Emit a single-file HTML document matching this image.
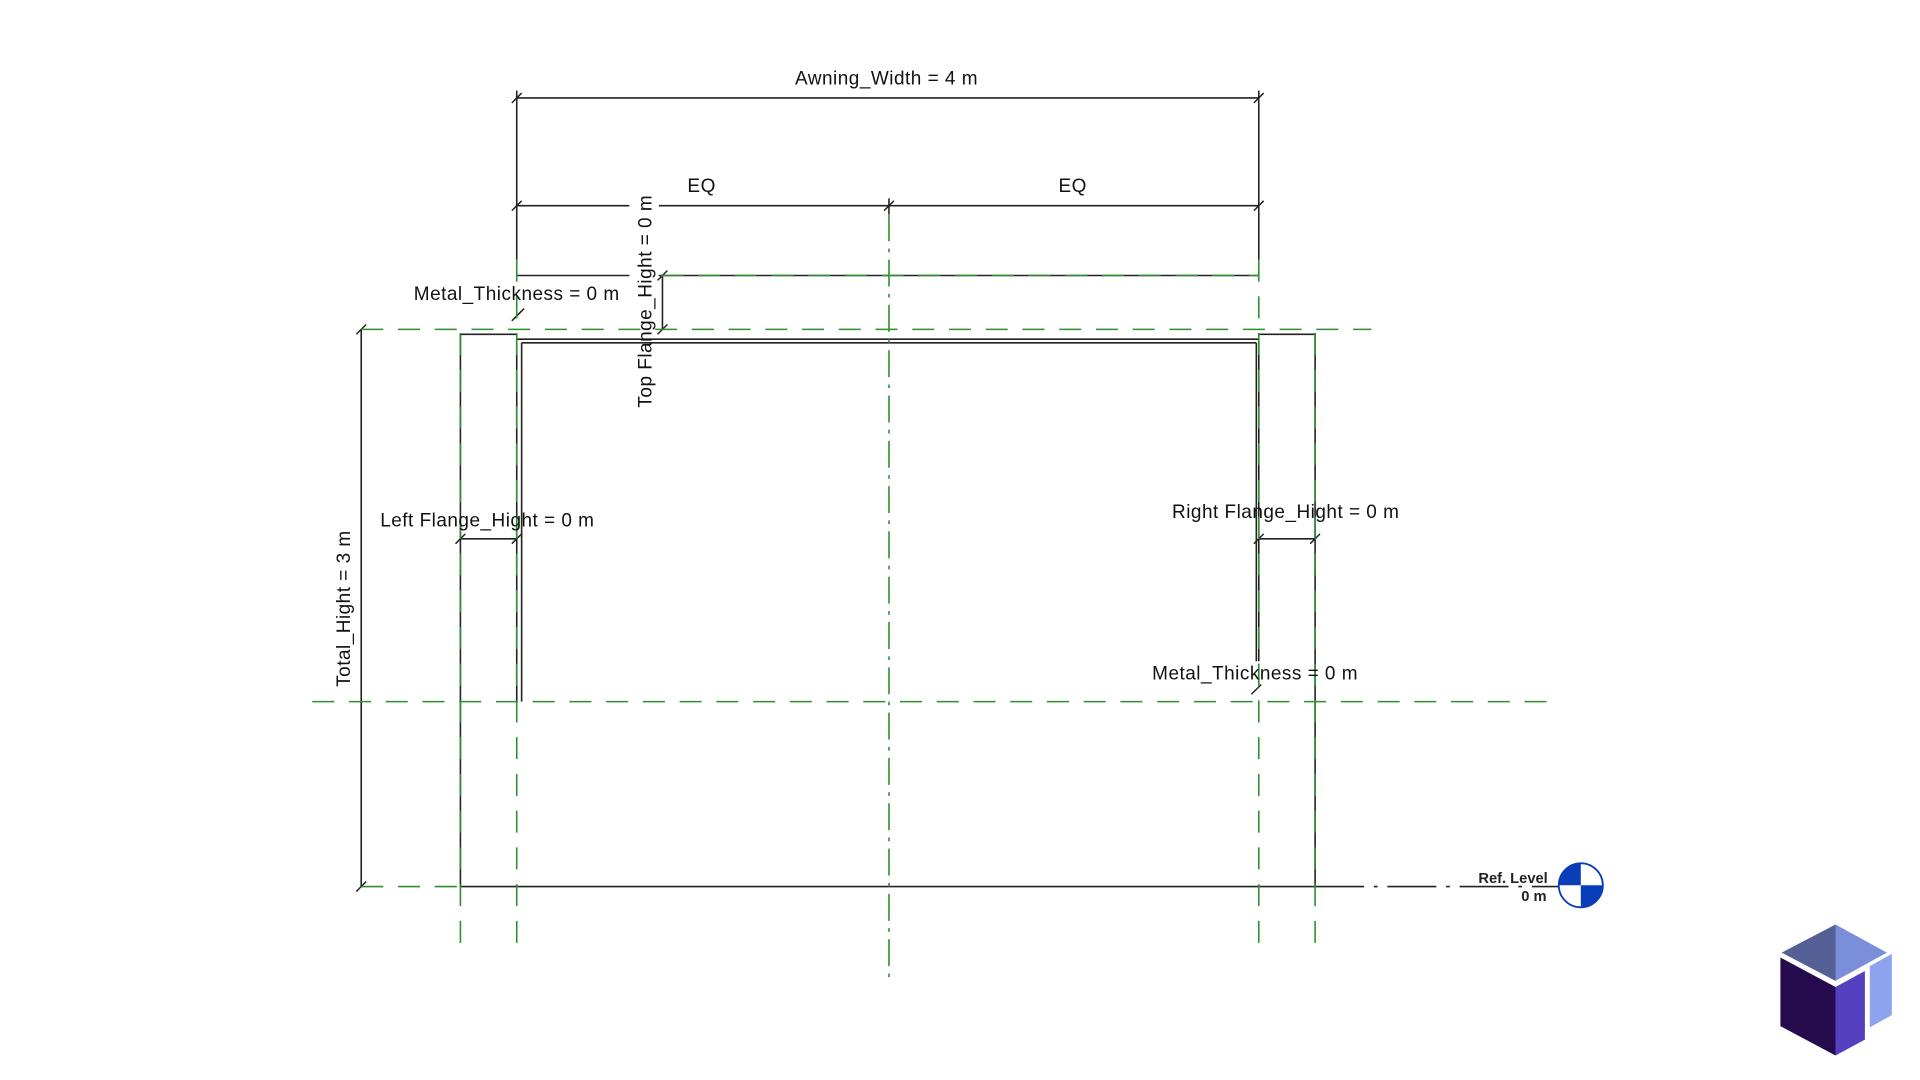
<!DOCTYPE html>
<html><head><meta charset="utf-8"><style>html,body{margin:0;padding:0;background:#fff}svg{display:block}</style></head>
<body>
<svg width="1920" height="1080" viewBox="0 0 1568 882" xmlns="http://www.w3.org/2000/svg" font-family="Liberation Sans, sans-serif" font-size="15.5" fill="#111">
<rect width="1568" height="882" fill="#fff"/>
<!-- black geometry -->
<g stroke="#222" stroke-width="1.3" fill="none">
  <line x1="422" y1="74" x2="422" y2="212"/>
  <line x1="1028" y1="74" x2="1028" y2="212"/>
  <line x1="422" y1="80" x2="1028" y2="80"/>
  <line x1="422" y1="168" x2="514" y2="168"/>
  <line x1="538" y1="168" x2="1028" y2="168"/>
  <line x1="726" y1="162" x2="726" y2="175"/>
  <line x1="422" y1="225" x2="514" y2="225"/>
  <line x1="538" y1="225" x2="1028" y2="225"/>
  <line x1="541" y1="225" x2="541" y2="269"/>
  <polyline points="376,724 376,273 422,273"/>
  <polyline points="1028,273 1074,273 1074,724"/>
  <line x1="376" y1="724" x2="1074" y2="724"/>
  <line x1="422" y1="277" x2="1028" y2="277"/>
  <line x1="426" y1="280" x2="1026" y2="280"/>
  <line x1="422" y1="277" x2="422" y2="573"/>
  <line x1="426" y1="280" x2="426" y2="573"/>
  <line x1="1028" y1="277" x2="1028" y2="540"/>
  <line x1="1026" y1="280" x2="1026" y2="540"/>
  <line x1="295" y1="269" x2="295" y2="724"/>
  <line x1="376" y1="440" x2="422" y2="440"/>
  <line x1="1028" y1="440" x2="1074" y2="440"/>
  <g stroke-width="1.2">
    <line x1="418" y1="84" x2="426" y2="76"/><line x1="1024" y1="84" x2="1032" y2="76"/>
    <line x1="418" y1="172" x2="426" y2="164"/><line x1="722" y1="172" x2="730" y2="164"/><line x1="1024" y1="172" x2="1032" y2="164"/>
    <line x1="537" y1="229" x2="545" y2="221"/><line x1="537" y1="273" x2="545" y2="265"/>
    <line x1="291" y1="273" x2="299" y2="265"/><line x1="291" y1="728" x2="299" y2="720"/>
    <line x1="372" y1="444" x2="380" y2="436"/><line x1="418" y1="444" x2="426" y2="436"/>
    <line x1="1024" y1="444" x2="1032" y2="436"/><line x1="1070" y1="444" x2="1078" y2="436"/>
    <line x1="418" y1="262" x2="426" y2="254"/><line x1="420" y1="260" x2="428" y2="252"/>
    <line x1="1022" y1="567" x2="1030" y2="559"/>
  </g>
  <line x1="1074" y1="724" x2="1275" y2="724" stroke-dasharray="40,8,3,8"/>
</g>
<!-- green reference lines -->
<g stroke="#2f8f2f" stroke-width="1.3" fill="none">
  <g stroke-dasharray="18,12">
    <line x1="422" y1="212" x2="422" y2="770"/>
    <line x1="1028" y1="212" x2="1028" y2="770"/>
    <line x1="376" y1="272" x2="376" y2="770"/>
    <line x1="1074" y1="272" x2="1074" y2="770"/>
    <line x1="295" y1="269" x2="1120" y2="269"/>
    <line x1="255" y1="573" x2="1272" y2="573"/>
    <line x1="295" y1="724" x2="376" y2="724"/>
    <line x1="540" y1="225" x2="1028" y2="225"/>
  </g>
  <line x1="726" y1="175" x2="726" y2="802" stroke-dasharray="22,6,3,6"/>
</g>
<!-- text -->
<g text-anchor="middle" letter-spacing="0.4">
  <text x="724" y="69">Awning_Width = 4 m</text>
  <text x="573" y="157">EQ</text>
  <text x="876" y="157">EQ</text>
  <text x="422" y="245">Metal_Thickness = 0 m</text>
  <text x="1025" y="555">Metal_Thickness = 0 m</text>
  <text x="398" y="430">Left Flange_Hight = 0 m</text>
  <text x="1050" y="423">Right Flange_Hight = 0 m</text>
  <text transform="translate(532,246) rotate(-90)">Top Flange_Hight = 0 m</text>
  <text transform="translate(286,497) rotate(-90)">Total_Hight = 3 m</text>
</g>
<g font-size="12" font-weight="bold" fill="#222" text-anchor="end">
  <text x="1264" y="721">Ref. Level</text>
  <text x="1263" y="736">0 m</text>
</g>
<g>
  <circle cx="1291" cy="723" r="18" fill="#fff" stroke="#0a3db8" stroke-width="1.5"/>
  <path d="M1291,723 L1273,723 A18,18 0 0 1 1291,705 Z" fill="#0a3db8"/>
  <path d="M1291,723 L1309,723 A18,18 0 0 1 1291,741 Z" fill="#0a3db8"/>
</g>
<g>
  <polygon points="1499,755 1455,778 1499,801" fill="#555f96"/>
  <polygon points="1499,755 1541,778 1499,801" fill="#7b8ed9"/>
  <polygon points="1454,782 1499,806 1499,862 1454,838" fill="#250a4e"/>
  <polygon points="1499,806 1523,793 1523,849 1499,862" fill="#5540c0"/>
  <polygon points="1527,789 1545,779 1545,829 1527,839" fill="#8da3f0"/>
</g>
</svg>
</body></html>
